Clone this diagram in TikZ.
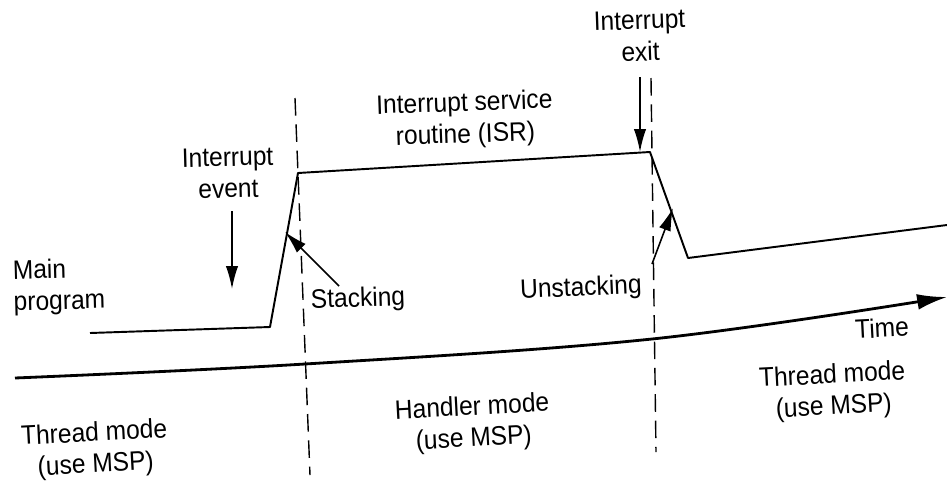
\documentclass[tikz,border=0pt]{standalone}
\usepackage{fontspec}
\setmainfont{Liberation Sans}[FakeStretch=0.92]
\usetikzlibrary{arrows.meta}
\begin{document}
\begin{tikzpicture}[x=0.02cm,y=-0.02cm,
  lbl/.style={font=\fontsize{15.2}{18}\selectfont,align=center,inner sep=0pt},
  wave/.style={line width=1.1pt,line join=round},
  guide/.style={line width=0.8pt,dash pattern=on 10pt off 5pt},
  pointer/.style={line width=0.9pt,-{Latex[length=13pt,width=7pt]}},
  timeax/.style={line width=1.6pt,-{Latex[length=17pt,width=9pt]}}]
\useasboundingbox (0,0) rectangle (947,481);
% waveform points
\coordinate (m0) at (90,333);
\coordinate (m1) at (270,327);
\coordinate (s1) at (298,173);
\coordinate (e0) at (650,152);
\coordinate (u1) at (688,258);
\coordinate (r1) at (947,225);
\draw[wave] (m0) -- (m1) -- (s1) -- (e0) -- (u1) -- (r1);
% dashed guides
\coordinate (d1a) at (295,98);
\coordinate (d1b) at (310,475);
\coordinate (d2a) at (651,78);
\coordinate (d2b) at (656,452);
\draw[guide] (d1a) -- (d1b);
\draw[guide] (d2a) -- (d2b);
% time axis
\coordinate (t0) at (15,378);
\coordinate (t1) at (305,364);
\coordinate (t2) at (652,339);
\coordinate (t3) at (947,297);
\draw[timeax] plot[smooth,tension=0.6] coordinates {(t0) (t1) (t2) (t3)};
% labels
\node[lbl,rotate=1.5] (ie) at (228,173) {Interrupt\\event};
\node[lbl,align=left,anchor=west,rotate=1.5] (mp) at (13,288) {Main\\program};
\node[lbl,rotate=2] (stk) at (358,300) {Stacking};
\node[lbl,rotate=2] (isr) at (465,120) {Interrupt service\\routine (ISR)};
\node[lbl,rotate=2] (ix) at (640,36) {Interrupt\\exit};
\node[lbl,rotate=2.5] (ust) at (581,289) {Unstacking};
\node[lbl,rotate=3] (tm) at (882,328) {Time};
\node[lbl,rotate=3] (th1) at (95,450) {Thread mode\\(use MSP)};
\node[lbl,rotate=3] (hm) at (473,424) {Handler mode\\(use MSP)};
\node[lbl,rotate=3] (th2) at (833,392) {Thread mode\\(use MSP)};
% pointer arrows
\coordinate (ieh) at (232,289);
\draw[pointer] (232,211) -- (ieh);
\coordinate (ixh) at (640,152);
\draw[pointer] (640,77) -- (ixh);
\coordinate (stkt) at (339,286);
\coordinate (stkh) at (285,232);
\draw[pointer] (stkt) -- (stkh);
\coordinate (ustt) at (652,264);
\coordinate (usth) at (673,208);
\draw[pointer] (ustt) -- (usth);
\end{tikzpicture}
\end{document}
